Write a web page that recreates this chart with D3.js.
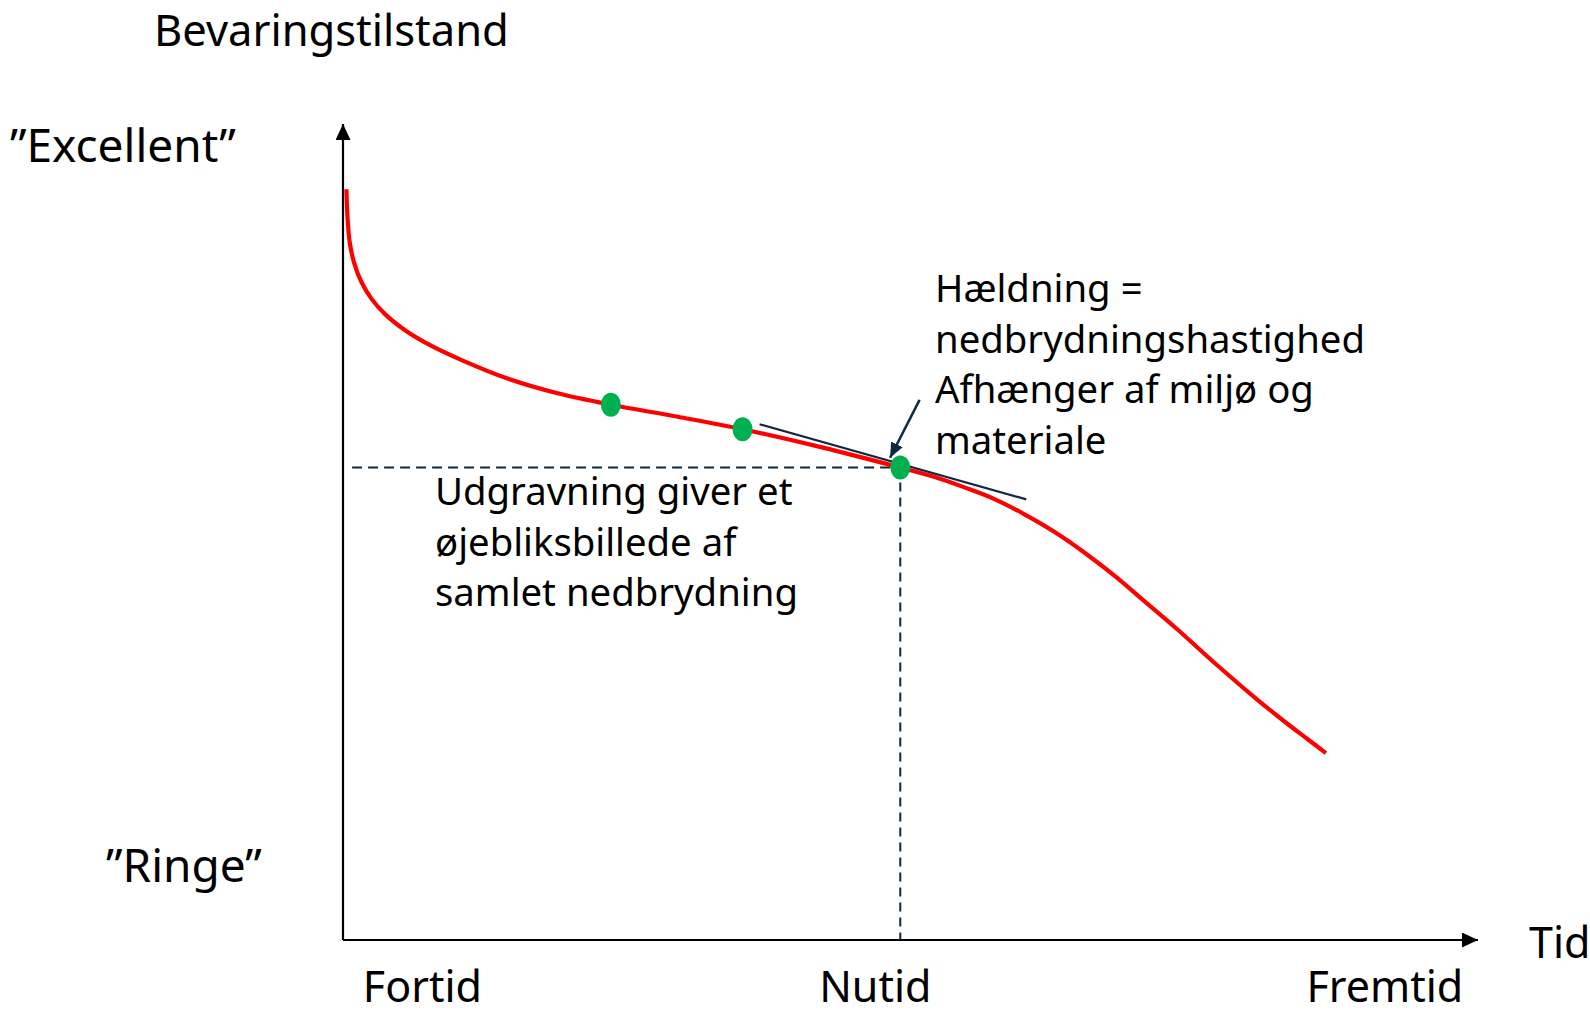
<!DOCTYPE html>
<html>
<head>
<meta charset="utf-8">
<script src="https://cdn.jsdelivr.net/npm/d3@7"></script>
<style>
  html, body { margin: 0; padding: 0; background: #fff; }
  svg { display: block; font-family: "Noto Sans", sans-serif; }
</style>
</head>
<body>
<div id="grafik"></div>
<script>
// nedbrydningskurve: tid (0-100) og bevaringstilstand (0-100)
const tid = [0.3, 0.4, 0.6, 1.0, 1.6, 2.5, 3.7, 5.5, 7.8, 10.4, 14.5, 18.9, 23.6, 29.6,
  35.2, 42.1, 49.1, 52.0, 54.7, 57.3, 60.0, 62.7, 65.4, 68.1, 70.7, 73.4, 77.0,
  80.6, 83.2, 85.0, 86.6];
const tilstand = [92.0, 88.5, 85.4, 82.9, 80.7, 78.6, 76.7, 74.7, 72.8, 71.1, 68.8, 67.0, 65.6, 64.1,
  62.6, 60.4, 57.9, 56.8, 55.5, 54.1, 52.2, 50.0, 47.4, 44.5, 41.4, 38.2, 33.7,
  29.4, 26.5, 24.6, 22.9];

// grønne punkter (det sidste er udgravningen / nutid)
const punktTid = [23.6, 35.2, 49.1];
const punktTilstand = [65.6, 62.6, 57.9];

// tangent (hældning) og pil fra teksten
const tangentTid = [36.7, 60.2];
const tangentTilstand = [63.2, 54.0];
const pilTid = [50.8, 48.2];
const pilTilstand = [66.2, 59.1];

// akse-tekster
const tidLabels = ["Fortid", "Nutid", "Fremtid"];
const tidLabelPos = [7.0, 46.9, 91.8];
const tilstandLabels = ["\u201DExcellent\u201D", "\u201DRinge\u201D"];
const tilstandLabelPos = [95.3, 7.1];

const width = 1590, height = 1014;
const rod = "#ff0000", gron = "#00b050", navy = "#0e2841";

const svg = d3.select("#grafik").append("svg")
  .attr("width", width)
  .attr("height", height);

const x = d3.scaleLinear().domain([0, 100]).range([343, 1478]);
const y = d3.scaleLinear().domain([0, 100]).range([940, 124]);

const defs = svg.append("defs");
function pilespids(id, farve, w, h) {
  defs.append("marker")
    .attr("id", id)
    .attr("viewBox", `0 0 ${w} ${h}`)
    .attr("refX", w)
    .attr("refY", h / 2)
    .attr("markerWidth", w)
    .attr("markerHeight", h)
    .attr("markerUnits", "userSpaceOnUse")
    .attr("orient", "auto")
    .append("path")
    .attr("d", `M0,0 L${w},${h / 2} L0,${h} Z`)
    .attr("fill", farve);
}
pilespids("akse-pil", "#000", 16, 15);
pilespids("tekst-pil", navy, 15, 13);

// akser
svg.append("line")
  .attr("x1", x(0)).attr("y1", y(0))
  .attr("x2", x(0)).attr("y2", y(100))
  .attr("stroke", "#000").attr("stroke-width", 2.2)
  .attr("marker-end", "url(#akse-pil)");
svg.append("line")
  .attr("x1", x(0)).attr("y1", y(0))
  .attr("x2", x(100)).attr("y2", y(0))
  .attr("stroke", "#000").attr("stroke-width", 2.2)
  .attr("marker-end", "url(#akse-pil)");

// stiplede hjælpelinjer til nutid
const nu = punktTid.length - 1;
svg.append("line")
  .attr("x1", x(0.8)).attr("y1", y(punktTilstand[nu]))
  .attr("x2", x(punktTid[nu])).attr("y2", y(punktTilstand[nu]))
  .attr("stroke", navy).attr("stroke-width", 2)
  .attr("stroke-dasharray", "10,6");
svg.append("line")
  .attr("x1", x(punktTid[nu])).attr("y1", y(punktTilstand[nu]))
  .attr("x2", x(punktTid[nu])).attr("y2", y(0))
  .attr("stroke", navy).attr("stroke-width", 2)
  .attr("stroke-dasharray", "9,6");

// kurven
const kurve = d3.line()
  .x(d => x(d[0]))
  .y(d => y(d[1]))
  .curve(d3.curveCatmullRom.alpha(0.5));

svg.append("path")
  .datum(d3.zip(tid, tilstand))
  .attr("d", kurve)
  .attr("fill", "none")
  .attr("stroke", rod)
  .attr("stroke-width", 4.2);

// tangent
svg.append("line")
  .attr("x1", x(tangentTid[0])).attr("y1", y(tangentTilstand[0]))
  .attr("x2", x(tangentTid[1])).attr("y2", y(tangentTilstand[1]))
  .attr("stroke", navy).attr("stroke-width", 2.2);

// punkter
svg.selectAll("ellipse.punkt")
  .data(d3.zip(punktTid, punktTilstand))
  .enter()
  .append("ellipse")
  .attr("class", "punkt")
  .attr("cx", d => x(d[0]))
  .attr("cy", d => y(d[1]))
  .attr("rx", 10)
  .attr("ry", 12)
  .attr("fill", gron);

// pil
svg.append("line")
  .attr("x1", x(pilTid[0])).attr("y1", y(pilTilstand[0]))
  .attr("x2", x(pilTid[1])).attr("y2", y(pilTilstand[1]))
  .attr("stroke", navy).attr("stroke-width", 2.5)
  .attr("marker-end", "url(#tekst-pil)");

// tekster
svg.append("text")
  .attr("x", 154).attr("y", 46)
  .attr("font-size", 43.5)
  .text("Bevaringstilstand");

svg.append("text")
  .attr("x", 1529).attr("y", 958)
  .attr("font-size", 43)
  .text("Tid");

svg.selectAll("text.tid")
  .data(tidLabels)
  .enter()
  .append("text")
  .attr("class", "tid")
  .attr("x", (d, i) => x(tidLabelPos[i]))
  .attr("y", 1002)
  .attr("text-anchor", "middle")
  .attr("font-size", 43)
  .text(d => d);

const labelX = [10, 106];
svg.selectAll("text.tilstand")
  .data(tilstandLabels)
  .enter()
  .append("text")
  .attr("class", "tilstand")
  .attr("x", (d, i) => labelX[i])
  .attr("y", (d, i) => y(tilstandLabelPos[i]))
  .attr("font-size", 46)
  .text(d => d);

function tekstblok(linjer, x0, y0) {
  const t = svg.append("text")
    .attr("x", x0).attr("y", y0)
    .attr("font-size", 38.3);
  linjer.forEach((l, i) => {
    t.append("tspan")
      .attr("x", x0)
      .attr("y", y0 + i * 50.5)
      .text(l);
  });
}
tekstblok(["H\u00e6ldning =", "nedbrydningshastighed", "Afh\u00e6nger af milj\u00f8 og", "materiale"], 935, 302);
tekstblok(["Udgravning giver et", "\u00f8jebliksbillede af", "samlet nedbrydning"], 435, 505);
</script>
</body>
</html>
